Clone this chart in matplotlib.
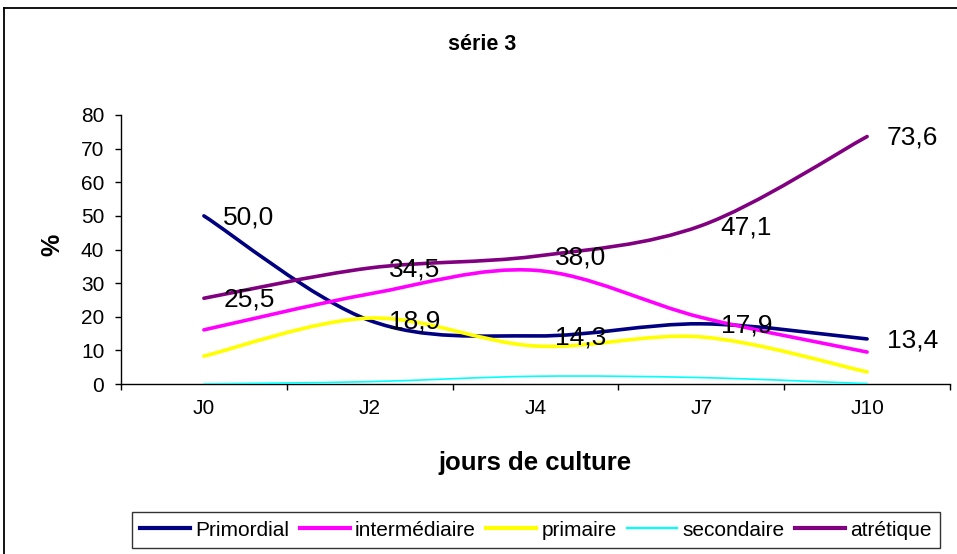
import matplotlib
matplotlib.use('Agg')
import matplotlib.pyplot as plt
from matplotlib.path import Path
from matplotlib.patches import PathPatch
from matplotlib.lines import Line2D
import numpy as np

plt.rcParams['font.family'] = ['Liberation Sans', 'DejaVu Sans']

# ---- data ----
categories = ['J0', 'J2', 'J4', 'J7', 'J10']
primordial = [50.0, 18.9, 14.3, 17.9, 13.4]
intermediaire = [16.1, 26.8, 33.8, 19.8, 9.5]
primaire = [8.3, 19.6, 11.3, 14.0, 3.6]
secondaire = [0.0, 0.7, 2.3, 1.9, 0.1]
atretique = [25.5, 34.5, 38.0, 47.1, 73.6]

series_names = ['Primordial', 'intermédiaire', 'primaire', 'secondaire', 'atrétique']
series_values = [primordial, intermediaire, primaire, secondaire, atretique]
labelled_series = ['Primordial', 'atrétique']
y_ticks = [0, 10, 20, 30, 40, 50, 60, 70, 80]

title = 'série 3'
x_label = 'jours de culture'
y_label = '%'

# ---- style ----
colors = ['#000080', '#FF00FF', '#FFFF00', '#00FFFF', '#800080']
widths = [2.6, 2.6, 2.6, 1.2, 2.6]

W, H = 957, 554
fig = plt.figure(figsize=(W / 100, H / 100), dpi=100)
ax = fig.add_axes([121 / W, 1 - 384 / H, (950 - 121) / W, (384 - 115) / H])


def smooth_path(xs, ys):
    pts = list(zip(xs, ys))
    n = len(pts)
    verts = [pts[0]]
    codes = [Path.MOVETO]
    for i in range(n - 1):
        p0 = pts[max(i - 1, 0)]
        p1 = pts[i]
        p2 = pts[i + 1]
        p3 = pts[min(i + 2, n - 1)]
        c1 = (p1[0] + (p2[0] - p0[0]) / 6, p1[1] + (p2[1] - p0[1]) / 6)
        c2 = (p2[0] - (p3[0] - p1[0]) / 6, p2[1] - (p3[1] - p1[1]) / 6)
        verts += [c1, c2, p2]
        codes += [Path.CURVE4] * 3
    return Path(verts, codes)


xs = list(range(len(categories)))
handles = []
for name, vals, c, lw in zip(series_names, series_values, colors, widths):
    patch = PathPatch(smooth_path(xs, vals), facecolor='none', edgecolor=c,
                      lw=lw, joinstyle='round', capstyle='round', zorder=3)
    ax.add_patch(patch)
    handles.append(Line2D([], [], color=c, lw=lw + 0.4))
    if name in labelled_series:
        for x, v in zip(xs, vals):
            ax.annotate(f"{v:.1f}".replace('.', ','), xy=(x, v), xytext=(14, -1),
                        textcoords='offset points', ha='left', va='center',
                        fontsize=19, color='black', zorder=4)

ax.set_xlim(-0.5, len(categories) - 0.5)
ax.set_ylim(0, 80)
ax.set_yticks(y_ticks)
ax.set_yticklabels([str(t) for t in y_ticks])
ax.set_xticks(xs)
ax.set_xticklabels(categories)
ax.set_xticks(np.arange(-0.5, len(categories), 1), minor=True)

ax.tick_params(axis='x', which='major', length=0, pad=10.5, labelsize=15)
ax.tick_params(axis='x', which='minor', length=4, width=1, direction='out')
ax.tick_params(axis='y', which='major', length=4, width=1, direction='out',
               pad=8, labelsize=15)

for s in ['top', 'right']:
    ax.spines[s].set_visible(False)
for s in ['left', 'bottom']:
    ax.spines[s].set_linewidth(1.0)
ax.patch.set_alpha(0)

fig.text(482 / W, 1 - 44 / H, title, ha='center', va='center',
         fontsize=15.5, fontweight='bold')
fig.text(535 / W, 1 - 463 / H, x_label, ha='center', va='center',
         fontsize=18.5, fontweight='bold')
fig.text(52 / W, 1 - 245 / H, y_label, ha='center', va='center',
         fontsize=18, fontweight='bold', rotation=90)

leg = fig.legend(handles, series_names, loc='center', ncol=5,
                 bbox_to_anchor=(536 / W, 1 - 530 / H), frameon=True,
                 fancybox=False, edgecolor='black', fontsize=15,
                 handlelength=2.4, handletextpad=0.25, columnspacing=0.5,
                 borderpad=0.42, borderaxespad=0)
leg.get_frame().set_linewidth(1.0)

# outer chart border
fig.add_artist(Line2D([4 / W, 1.0], [1 - 8 / H, 1 - 8 / H], color='black',
                      lw=1.3, transform=fig.transFigure))
fig.add_artist(Line2D([4 / W, 4 / W], [0, 1 - 8 / H], color='black',
                      lw=1.3, transform=fig.transFigure))

fig.savefig('out.png', dpi=100)
